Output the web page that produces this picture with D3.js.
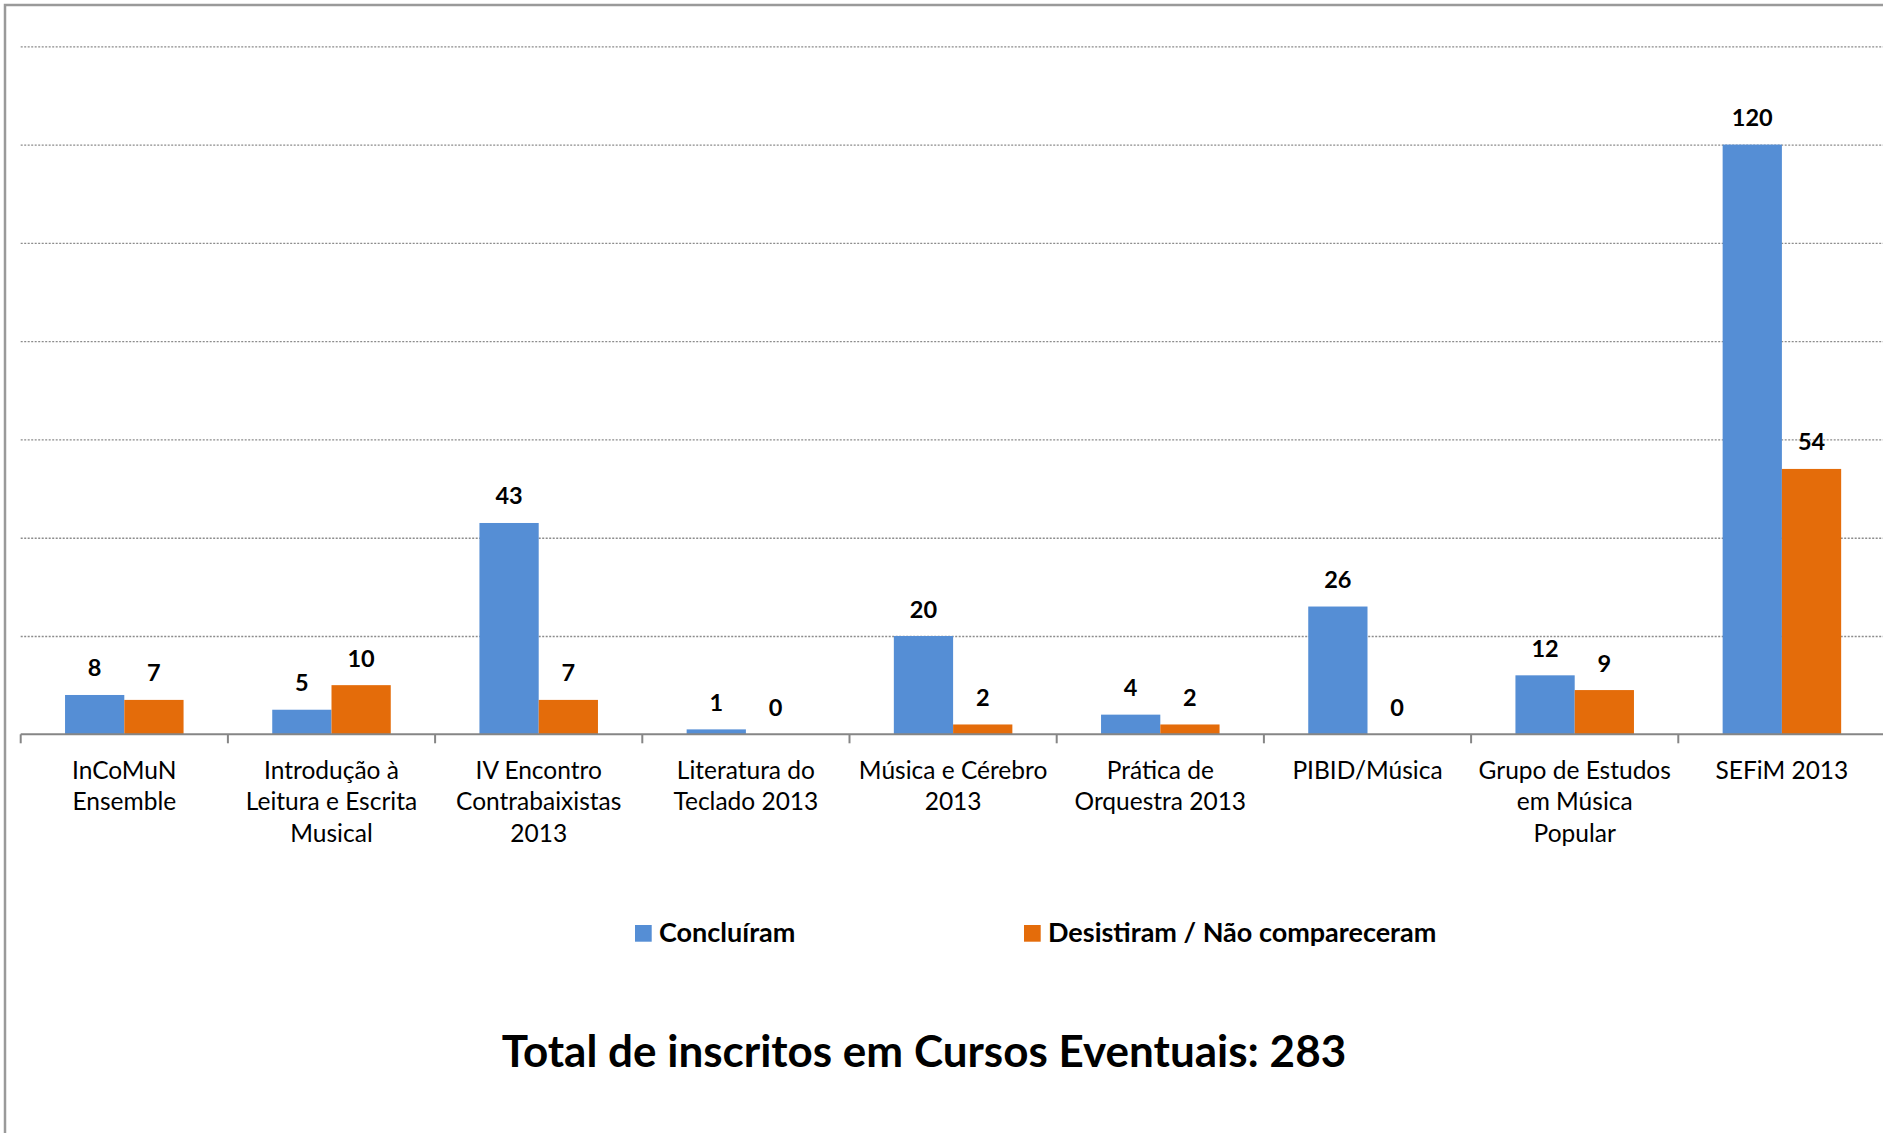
<!DOCTYPE html>
<html>
<head>
<meta charset="utf-8">
<script src="https://cdn.jsdelivr.net/npm/d3@7"></script>
<style>
  body { margin: 0; background: #fff; }
  svg { display: block; font-family: Lato, "Open Sans", sans-serif; }
</style>
</head>
<body>
<svg id="chart" width="1883" height="1133"></svg>
<script>
// categories (line-broken like the original axis labels)
const categories = [
  ["InCoMuN", "Ensemble"],
  ["Introdução à", "Leitura e Escrita", "Musical"],
  ["IV Encontro", "Contrabaixistas", "2013"],
  ["Literatura do", "Teclado 2013"],
  ["Música e Cérebro", "2013"],
  ["Prática de", "Orquestra 2013"],
  ["PIBID/Música"],
  ["Grupo de Estudos", "em Música", "Popular"],
  ["SEFiM 2013"]
];
const series = ["Concluíram", "Desistiram / Não compareceram"];
const concluiram = [8, 5, 43, 1, 20, 4, 26, 12, 120];
const desistiram = [7, 10, 7, 0, 2, 2, 0, 9, 54];
const gridTicks = [20, 40, 60, 80, 100, 120, 140];
const titleText = "Total de inscritos em Cursos Eventuais: 283";

const colors = ["#558ed5", "#e46c0a"];

const svg = d3.select("#chart");
const plotLeft = 20.7, plotRight = 1885.5, plotTop = 46.3, plotBottom = 734.3;

// outer frame of the chart object
svg.append("rect")
  .attr("x", 5).attr("y", 5)
  .attr("width", 1950).attr("height", 1200)
  .attr("fill", "none")
  .attr("stroke", "#9a9a9a")
  .attr("stroke-width", 2.5);

const keys = categories.map((d, i) => i);
const x = d3.scaleBand().domain(keys).range([plotLeft, plotRight]).padding(0);
const x1 = d3.scaleBand().domain([0, 1]).range([x.bandwidth() * 0.214, x.bandwidth() * 0.786]);
const y = d3.scaleLinear().domain([0, 140]).range([plotBottom, plotTop]);

// dotted gridlines
const grid = svg.append("g")
  .attr("transform", `translate(${plotLeft},0)`)
  .call(d3.axisLeft(y).tickValues(gridTicks).tickSize(-(plotRight - plotLeft)).tickFormat(""));
grid.select(".domain").remove();
grid.selectAll("line")
  .attr("stroke", "#8c8c8c")
  .attr("stroke-width", 1.3)
  .attr("stroke-dasharray", "2,1.5");

// bars
const rows = keys.map(i => [concluiram[i], desistiram[i]]);
const groups = svg.append("g").selectAll("g")
  .data(rows)
  .join("g")
  .attr("transform", (d, i) => `translate(${x(i)},0)`);

groups.selectAll("rect")
  .data(d => d)
  .join("rect")
  .attr("x", (d, j) => x1(j))
  .attr("width", x1.bandwidth())
  .attr("y", d => y(d))
  .attr("height", d => plotBottom - y(d))
  .attr("fill", (d, j) => colors[j]);

groups.selectAll("text")
  .data(d => d)
  .join("text")
  .attr("x", (d, j) => x1(j) + x1.bandwidth() / 2)
  .attr("y", d => y(d) - 18.5)
  .attr("text-anchor", "middle")
  .attr("font-size", 23.5)
  .attr("font-weight", "bold")
  .attr("fill", "#000")
  .text(d => d);

// x axis with ticks at category boundaries
const axis = svg.append("g");
axis.append("line")
  .attr("x1", plotLeft).attr("x2", plotRight)
  .attr("y1", plotBottom).attr("y2", plotBottom)
  .attr("stroke", "#868686").attr("stroke-width", 2);
axis.selectAll("line.tick")
  .data(keys.concat([keys.length]))
  .join("line")
  .attr("class", "tick")
  .attr("x1", i => i < keys.length ? x(i) : plotRight)
  .attr("x2", i => i < keys.length ? x(i) : plotRight)
  .attr("y1", plotBottom).attr("y2", plotBottom + 9)
  .attr("stroke", "#868686").attr("stroke-width", 2);

axis.selectAll("text")
  .data(categories)
  .join("text")
  .attr("x", (d, i) => x(i) + x.bandwidth() / 2)
  .attr("y", 778.5)
  .attr("text-anchor", "middle")
  .attr("font-size", 24.5)
  .attr("fill", "#000")
  .selectAll("tspan")
  .data(d => d)
  .join("tspan")
  .attr("x", function () { return this.parentNode.getAttribute("x"); })
  .attr("dy", (d, k) => k === 0 ? 0 : 31.5)
  .text(d => d);

// legend
const legendX = [635, 1024];
const legend = svg.append("g").selectAll("g")
  .data(series)
  .join("g")
  .attr("transform", (d, i) => `translate(${legendX[i]},925)`);
legend.append("rect")
  .attr("width", 16.7).attr("height", 16.7)
  .attr("fill", (d, i) => colors[i]);
legend.append("text")
  .attr("x", 24).attr("y", 16.7)
  .attr("font-size", 27)
  .attr("font-weight", "bold")
  .attr("fill", "#000")
  .text(d => d);

// title
svg.append("text")
  .attr("x", 924)
  .attr("y", 1067)
  .attr("text-anchor", "middle")
  .attr("font-size", 44)
  .attr("font-weight", "bold")
  .attr("fill", "#000")
  .text(titleText);
</script>
</body>
</html>
